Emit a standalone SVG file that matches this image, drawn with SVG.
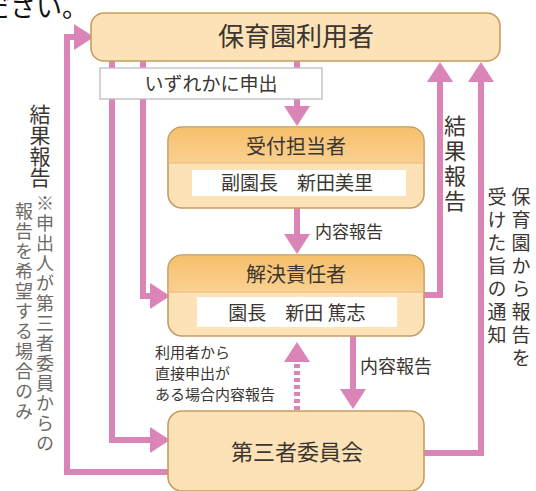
<svg xmlns="http://www.w3.org/2000/svg" width="536" height="491" viewBox="0 0 536 491">
<style>
.box{fill:#fce2b6;stroke:#c59d5f;stroke-width:1.6}
.inner{fill:#ffffff}
.t{font-family:"Noto Sans CJK JP","Noto Sans",sans-serif;fill:#3b3631}
.c{fill:none;stroke:#da84b8;stroke-width:6}
.v{writing-mode:vertical-rl;font-family:"Noto Sans CJK JP","Noto Sans",sans-serif;fill:#3b3631}
.g{fill:#6e6a66}
</style>
<defs>
<marker id="ah" viewBox="0 0 20 26" refX="0" refY="13" markerWidth="20" markerHeight="26" markerUnits="userSpaceOnUse" orient="auto">
<path d="M0,0 L20,13 L0,26 Z" fill="#da84b8"/>
</marker>
<linearGradient id="hg" x1="0" y1="0" x2="0" y2="1">
<stop offset="0" stop-color="#f6bf6c"/>
<stop offset="1" stop-color="#f9d192"/>
</linearGradient>
</defs>

<text class="t" x="88" y="17" font-size="26" text-anchor="end" style="fill:#111">ださい。</text>

<g id="connectors">
<path class="c" d="M168 472 H67 V37 H74" marker-end="url(#ah)"/>
<path class="c" d="M112 61 V440 H150" marker-end="url(#ah)"/>
<path class="c" d="M143 61 V296 H150" marker-end="url(#ah)"/>
<path class="c" d="M297 61 V106" marker-end="url(#ah)"/>
<path class="c" d="M297 208 V234" marker-end="url(#ah)"/>
<path class="c" d="M424 295 H440 V82" marker-end="url(#ah)"/>
<path class="c" d="M424 453 H481 V82" marker-end="url(#ah)"/>
<path class="c" d="M297 410 V362" stroke-dasharray="4 3" marker-end="url(#ah)"/>
<path class="c" d="M353 336 V389" marker-end="url(#ah)"/>
</g>

<g id="label-izureka">
<rect x="100" y="68" width="222" height="31" fill="#ffffff" stroke="#b8b8b8" stroke-width="1.2"/>
<text class="t" x="211" y="91" font-size="19" text-anchor="middle">いずれかに申出</text>
</g>

<g id="node-user">
<rect class="box" x="91" y="13" width="409" height="48" rx="13"/>
<text class="t" x="296" y="46" font-size="26" text-anchor="middle">保育園利用者</text>
</g>

<g id="node-uketsuke">
<rect class="box" x="168" y="127" width="256" height="81" rx="14"/>
<path d="M168.8 163 V141 A13.2 13.2 0 0 1 182 127.8 H410 A13.2 13.2 0 0 1 423.2 141 V163 Z" fill="url(#hg)"/>
<line x1="168.8" y1="163" x2="423.2" y2="163" stroke="#e8b874" stroke-width="1"/>
<text class="t" x="296" y="154" font-size="20" text-anchor="middle">受付担当者</text>
<rect class="inner" x="192" y="170" width="214" height="26"/>
<text class="t" x="297" y="190" font-size="19" text-anchor="middle">副園長　新田美里</text>
</g>

<g id="node-kaiketsu">
<rect class="box" x="168" y="255" width="256" height="81" rx="14"/>
<path d="M168.8 292 V269 A13.2 13.2 0 0 1 182 255.8 H410 A13.2 13.2 0 0 1 423.2 269 V292 Z" fill="url(#hg)"/>
<line x1="168.8" y1="292" x2="423.2" y2="292" stroke="#e8b874" stroke-width="1"/>
<text class="t" x="296" y="282" font-size="20" text-anchor="middle">解決責任者</text>
<rect class="inner" x="197" y="297" width="200" height="30"/>
<text class="t" x="297" y="320" font-size="19" text-anchor="middle">園長　新田 篤志</text>
</g>

<g id="node-daisansha">
<rect class="box" x="168" y="411" width="256" height="80" rx="14"/>
<text class="t" x="297" y="460" font-size="22" text-anchor="middle">第三者委員会</text>
</g>

<g id="labels">
<text class="t" x="315" y="238" font-size="17">内容報告</text>
<text class="t" x="360" y="373" font-size="18">内容報告</text>
<text class="t" x="155" y="358" font-size="15">利用者から</text>
<text class="t" x="155" y="379" font-size="15">直接申出が</text>
<text class="t" x="155" y="400" font-size="15">ある場合内容報告</text>
<text class="v" x="40" y="104" font-size="21">結果報告</text>
<text class="v g" x="45" y="194" font-size="18" letter-spacing="2">※申出人が第三者委員からの</text>
<text class="v g" x="24" y="202" font-size="18" letter-spacing="2">報告を希望する場合のみ</text>
<text class="v" x="455" y="115" font-size="22" letter-spacing="3">結果報告</text>
<text class="v" x="521" y="187" font-size="19" letter-spacing="4">保育園から報告を</text>
<text class="v" x="497" y="187" font-size="19" letter-spacing="4">受けた旨の通知</text>
</g>
</svg>
